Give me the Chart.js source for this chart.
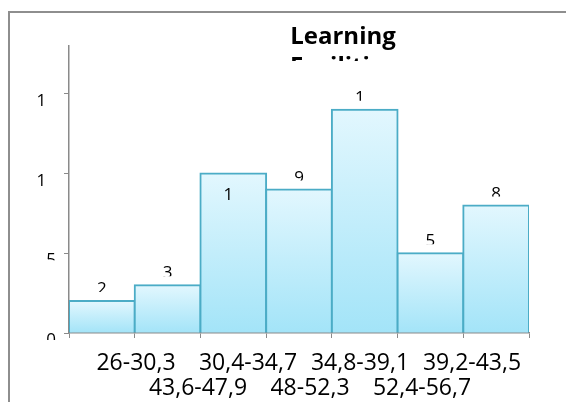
<!DOCTYPE html>
<html>
<head>
<meta charset="utf-8">
<script src="https://cdn.jsdelivr.net/npm/chart.js@4/dist/chart.umd.min.js"></script>
<style>
  html, body { margin: 0; padding: 0; background: #fff; }
</style>
</head>
<body>
<canvas id="chart" width="566" height="402"></canvas>
<script>
const titleLines = ['Learning', 'Facilities'];
const categories = ['26-30,3', '30,4-34,7', '34,8-39,1', '39,2-43,5', '43,6-47,9', '48-52,3', '52,4-56,7'];
const counts = [2, 3, 10, 9, 14, 5, 8];
const yTicks = [0, 5, 10, 15];
const yMax = 18;

const font = "'Open Sans', 'DejaVu Sans', sans-serif";
const axisGrey = '#8a8a8a';

// the original render is clipped in odd places, this plugin copies that look
const excelLook = {
  id: 'excelLook',
  beforeDraw(chart) {
    const c = chart.ctx;
    c.save();
    c.fillStyle = '#fff';
    c.fillRect(0, 0, chart.width, chart.height);
    c.strokeStyle = '#8e8e8e';
    c.lineWidth = 2;
    c.beginPath();
    c.moveTo(9, chart.height);
    c.lineTo(9, 12);
    c.lineTo(chart.width, 12);
    c.stroke();
    c.restore();
  },
  afterDraw(chart) {
    const c = chart.ctx;
    const yScale = chart.scales.y;

    // title, second line mostly hidden
    c.save();
    c.fillStyle = '#000';
    c.font = 'bold 24px ' + font;
    c.textAlign = 'center';
    c.fillText(titleLines[0], 343, 44);
    c.beginPath();
    c.rect(0, 52, chart.width, 9);
    c.clip();
    c.fillText(titleLines[1], 343, 74);
    c.restore();

    // y tick labels, only the first character shows
    c.font = '17px ' + font;
    c.fillStyle = '#000';
    yTicks.forEach(v => {
      const py = yScale.getPixelForValue(v);
      const text = String(v);
      const w = c.measureText(text).width;
      const first = c.measureText(text[0]).width;
      const left = 56 - w;
      const visible = v >= 10 ? 16 : 7;
      c.save();
      c.beginPath();
      c.rect(left - 2, py - 3, first + 2, visible + 3);
      c.clip();
      c.fillText(text, left, py + 12);
      c.restore();
    });

    // value labels over the bars
    const meta = chart.getDatasetMeta(0);
    meta.data.forEach((bar, i) => {
      const text = String(counts[i]);
      const w = c.measureText(text).width;
      const first = c.measureText(text[0]).width;
      const left = bar.x - w / 2;
      const inside = i === 2;
      const capTop = inside ? bar.y + 14 : bar.y - 19;
      const visible = inside ? 14 : 10;
      c.save();
      c.beginPath();
      c.rect(left - 2, capTop - 3, first + 2, visible + 3);
      c.clip();
      c.fillText(text, left, capTop + 12.2);
      c.restore();
    });

    // category labels, staggered in two rows
    c.save();
    c.font = '23px ' + font;
    c.textAlign = 'center';
    const perRow = Math.ceil(categories.length / 2);
    categories.forEach((label, i) => {
      const row = i < perRow ? 0 : 1;
      const k = row ? i - perRow : i;
      const x = 136 + k * 112 + row * 62;
      c.fillText(label, x, 370 + row * 25);
    });
    c.restore();
  }
};

new Chart(document.getElementById('chart'), {
  type: 'bar',
  data: {
    labels: categories,
    datasets: [{
      data: counts,
      backgroundColor: ctx => {
        const chart = ctx.chart;
        const area = chart.chartArea;
        if (!area || ctx.type !== 'data') return '#c5eefb';
        const top = chart.scales.y.getPixelForValue(counts[ctx.dataIndex]);
        const g = chart.ctx.createLinearGradient(0, top, 0, area.bottom);
        g.addColorStop(0, '#e2f7fe');
        g.addColorStop(1, '#a3e4f8');
        return g;
      },
      borderColor: '#4bacc6',
      borderWidth: 2,
      inflateAmount: 1,
      barPercentage: 1,
      categoryPercentage: 1
    }]
  },
  options: {
    responsive: false,
    animation: false,
    layout: { padding: { left: 64, right: 37, top: 46, bottom: 64 } },
    plugins: {
      legend: { display: false },
      title: { display: false },
      tooltip: { enabled: false }
    },
    scales: {
      x: {
        ticks: { display: false },
        grid: { drawOnChartArea: false, tickLength: 5, color: axisGrey, offset: true },
        border: { color: axisGrey, width: 1.5 }
      },
      y: {
        min: 0,
        max: yMax,
        afterBuildTicks: s => { s.ticks = yTicks.map(v => ({ value: v })); },
        ticks: { display: false },
        grid: { drawOnChartArea: false, tickLength: 5, color: axisGrey },
        border: { color: axisGrey, width: 1.5 }
      }
    }
  },
  plugins: [excelLook]
});
</script>
</body>
</html>
